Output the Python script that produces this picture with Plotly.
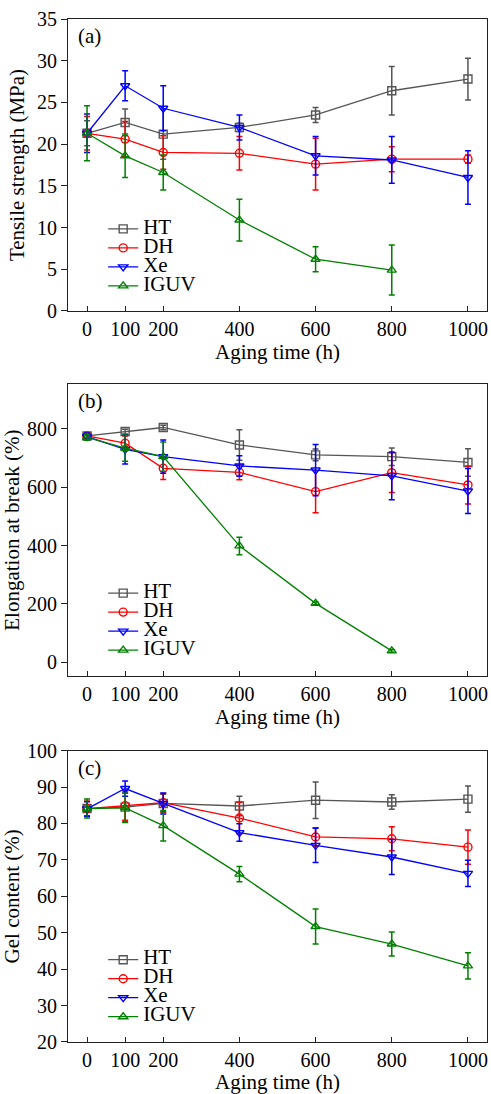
import plotly.graph_objects as go
from plotly.subplots import make_subplots

# ---------------- data ----------------
hours = [0, 100, 200, 400, 600, 800, 1000]
hours_iguv_b = [0, 100, 200, 400, 600, 800]
series = ["HT", "DH", "Xe", "IGUV"]

# (a) Tensile strength (MPa)
ts_ht = [21.3, 22.6, 21.2, 22.0, 23.5, 26.4, 27.8]
ts_ht_err = [1.5, 1.6, 3.0, 0.5, 0.9, 2.9, 2.5]
ts_dh = [21.3, 20.6, 19.0, 18.9, 17.6, 18.2, 18.2]
ts_dh_err = [2.0, 2.1, 2.0, 2.0, 3.1, 1.5, 0.5]
ts_xe = [21.3, 27.0, 24.3, 22.0, 18.6, 18.1, 16.0]
ts_xe_err = [2.3, 1.8, 2.7, 1.5, 2.3, 2.8, 3.2]
ts_iguv = [21.3, 18.6, 16.6, 10.9, 6.2, 4.9]
ts_iguv_err = [3.3, 2.6, 2.1, 2.5, 1.5, 3.0]

# (b) Elongation at break (%)
eb_ht = [776, 791, 805, 745, 711, 705, 685]
eb_ht_err = [10, 8, 8, 52, 20, 30, 47]
eb_dh = [776, 751, 665, 651, 585, 650, 608]
eb_dh_err = [10, 25, 38, 25, 72, 68, 65]
eb_xe = [774, 730, 705, 673, 659, 639, 587]
eb_xe_err = [12, 50, 57, 35, 88, 82, 77]
eb_iguv = [771, 734, 705, 399, 202, 39]
eb_iguv_err = [10, 45, 50, 30, 5, 5]

# (c) Gel content (%)
gc_ht = [84.1, 84.5, 85.5, 84.8, 86.4, 85.9, 86.7]
gc_ht_err = [2.0, 4.0, 2.5, 2.7, 5.0, 2.0, 3.6]
gc_dh = [84.1, 84.9, 85.7, 81.5, 76.3, 75.8, 73.5]
gc_dh_err = [2.0, 4.0, 2.5, 4.3, 2.5, 3.3, 4.7]
gc_xe = [84.0, 89.6, 85.5, 77.5, 74.0, 70.8, 66.3]
gc_xe_err = [2.0, 2.1, 2.9, 2.4, 4.7, 4.8, 3.6]
gc_iguv = [84.1, 84.3, 79.4, 66.1, 51.7, 46.9, 40.9]
gc_iguv_err = [2.6, 4.0, 4.2, 2.1, 4.8, 3.3, 3.6]

x_ticks = [0, 100, 200, 400, 600, 800, 1000]
panel_labels = ["(a)", "(b)", "(c)"]
y_titles = ["Tensile strength (MPa)", "Elongation at break (%)", "Gel content (%)"]
x_title = "Aging time (h)"

# ---------------- style ----------------
FONT = "Liberation Serif, Times New Roman, serif"
colors = {"HT": "#555555", "DH": "#ff0000", "Xe": "#0000ff", "IGUV": "#008000"}
symbols = {"HT": "square-open", "DH": "circle-open", "Xe": "triangle-down-open",
           "IGUV": "triangle-up-open"}

panels = [
    {"HT": (hours, ts_ht, ts_ht_err), "DH": (hours, ts_dh, ts_dh_err),
     "Xe": (hours, ts_xe, ts_xe_err), "IGUV": (hours[:6], ts_iguv, ts_iguv_err)},
    {"HT": (hours, eb_ht, eb_ht_err), "DH": (hours, eb_dh, eb_dh_err),
     "Xe": (hours, eb_xe, eb_xe_err), "IGUV": (hours_iguv_b, eb_iguv, eb_iguv_err)},
    {"HT": (hours, gc_ht, gc_ht_err), "DH": (hours, gc_dh, gc_dh_err),
     "Xe": (hours, gc_xe, gc_xe_err), "IGUV": (hours, gc_iguv, gc_iguv_err)},
]

fig = make_subplots(rows=3, cols=1)
legend_names = ["legend", "legend2", "legend3"]

for i, pdata in enumerate(panels):
    for s in series:
        xs, ys, es = pdata[s]
        fig.add_trace(go.Scatter(
            x=xs, y=ys, mode="lines+markers",
            name="<span style='font-size:21px'>%s</span>" % s,
            line=dict(color=colors[s], width=1.3),
            marker=dict(symbol=symbols[s], size=8, color=colors[s],
                        line=dict(color=colors[s], width=1.4)),
            error_y=dict(type="data", array=es, visible=True, color=colors[s],
                         thickness=1.5, width=3),
            legend=legend_names[i], showlegend=True,
        ), row=i + 1, col=1)

domains = [[0.7146, 1.0], [0.3578, 0.6429], [0.0, 0.2848]]
y_ranges = [[0, 35], [-47, 953], [20, 100]]
y_tickvals = [list(range(0, 36, 5)), list(range(0, 801, 200)), list(range(20, 101, 10))]
y_standoff = [6, 12, 12]

tickfont = dict(family=FONT, size=20, color="black")
titlefont = dict(family=FONT, size=21, color="black")

for i in range(3):
    fig.update_xaxes(range=[-50, 1050], tickvals=x_ticks, ticks="inside", ticklen=5,
                     title_text=x_title, title_font=titlefont, title_standoff=1,
                     domain=[0, 1], ticklabeloverflow="allow", automargin=False,
                     row=i + 1, col=1)
    fig.update_yaxes(range=y_ranges[i], tickvals=y_tickvals[i], ticks="outside", ticklen=6,
                     title_text=y_titles[i], title_font=titlefont, title_standoff=y_standoff[i],
                     domain=domains[i], automargin=False, row=i + 1, col=1)
    fig.add_annotation(text=panel_labels[i], xref="%s domain" % ("x" if i == 0 else "x%d" % (i + 1)),
                       yref="%s domain" % ("y" if i == 0 else "y%d" % (i + 1)),
                       x=0.019, y=0.942, xanchor="left", yanchor="middle", showarrow=False,
                       font=titlefont)

fig.update_xaxes(showline=True, linecolor="#222222", linewidth=1.2, mirror=True,
                 showgrid=False, zeroline=False, tickcolor="#222222", tickwidth=1,
                 tickfont=tickfont)
fig.update_yaxes(showline=True, linecolor="#222222", linewidth=1.2, mirror=True,
                 showgrid=False, zeroline=False, tickcolor="#222222", tickwidth=1,
                 tickfont=tickfont)

legend_y = [0.809, 0.453, 0.0946]
legend_common = dict(x=0.084, xanchor="left", yanchor="top", bgcolor="rgba(0,0,0,0)",
                     font=dict(family=FONT, size=12, color="black"), tracegroupgap=0)
fig.update_layout(
    legend=dict(y=legend_y[0], **legend_common),
    legend2=dict(y=legend_y[1], **legend_common),
    legend3=dict(y=legend_y[2], **legend_common),
)

fig.update_layout(width=491, height=1094, margin=dict(l=68, r=4, t=19, b=52, autoexpand=False),
                  plot_bgcolor="white", paper_bgcolor="white",
                  font=dict(family=FONT, size=20, color="black"))

fig.write_html("out.html", config={"displayModeBar": False},
               post_script="document.body.style.margin='0';document.body.style.padding='0';")
